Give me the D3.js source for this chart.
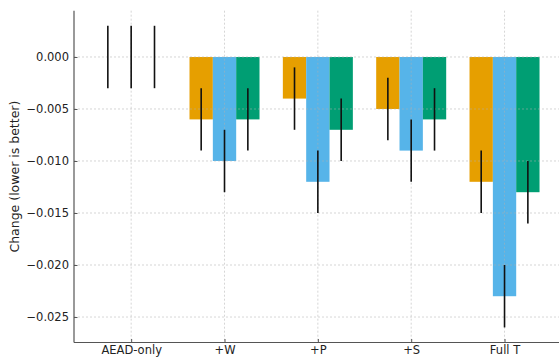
<!DOCTYPE html>
<html>
<head>
<meta charset="utf-8">
<script src="https://cdn.jsdelivr.net/npm/d3@7/dist/d3.min.js"></script>
<style>
  html, body { margin: 0; padding: 0; background: #fff; overflow: hidden; }
  svg, svg text { font-family: 'DejaVu Sans', sans-serif; }
</style>
</head>
<body>
<svg id="chart" width="559" height="358"></svg>
<script>
// Configurations along the x axis
const categories = ["AEAD-only", "+W", "+P", "+S", "Full T"];

// Mean change per configuration for each of the three runs
const seriesA = [0.000, -0.006, -0.004, -0.005, -0.012];
const seriesB = [0.000, -0.010, -0.012, -0.009, -0.023];
const seriesC = [0.000, -0.006, -0.007, -0.006, -0.013];

// Half-width of the error bar for each run
const errA = [0.003, 0.003, 0.003, 0.003, 0.003];
const errB = [0.003, 0.003, 0.003, 0.003, 0.003];
const errC = [0.003, 0.003, 0.003, 0.003, 0.003];

const seriesColors = ["#E69F00", "#56B4E9", "#009E73"];
const yTicks = [0.000, -0.005, -0.010, -0.015, -0.020, -0.025];

const series = [
  { values: seriesA, err: errA, color: seriesColors[0] },
  { values: seriesB, err: errB, color: seriesColors[1] },
  { values: seriesC, err: errC, color: seriesColors[2] }
];

const svg = d3.select("#chart");
const plotLeft = 74, plotRight = 561.7, plotTop = 10.7, plotBottom = 342.5;

const groupWidth = 0.75;
const barWidth = groupWidth / series.length;
const pad = 0.05 * (categories.length - 1 + groupWidth);
const x = d3.scaleLinear()
  .domain([-groupWidth / 2 - pad, categories.length - 1 + groupWidth / 2 + pad])
  .range([plotLeft, plotRight]);

const y = d3.scaleLinear()
  .domain([-0.02745, 0.00445])
  .range([plotBottom, plotTop]);

const fmt = v => (v < 0 ? "\u2212" : "") + d3.format(".3f")(Math.abs(v));

// Bars
series.forEach((s, si) => {
  const off = (si - (series.length - 1) / 2) * barWidth;
  svg.append("g").selectAll("rect")
    .data(s.values)
    .join("rect")
    .attr("x", (d, i) => x(i + off - barWidth / 2))
    .attr("width", (d, i) => x(i + off + barWidth / 2) - x(i + off - barWidth / 2))
    .attr("y", d => y(Math.max(0, d)))
    .attr("height", d => Math.abs(y(d) - y(0)))
    .attr("fill", s.color);
});

// Gridlines, drawn over the bars
const grid = svg.append("g")
  .attr("stroke", "#b0b0b0")
  .attr("stroke-opacity", 0.65)
  .attr("stroke-width", 0.8)
  .attr("stroke-dasharray", "2,2");
grid.selectAll("line.h")
  .data(yTicks)
  .join("line")
  .attr("class", "h")
  .attr("x1", plotLeft).attr("x2", plotRight)
  .attr("y1", d => y(d)).attr("y2", d => y(d));
grid.selectAll("line.v")
  .data(categories)
  .join("line")
  .attr("class", "v")
  .attr("x1", (d, i) => x(i)).attr("x2", (d, i) => x(i))
  .attr("y1", plotTop).attr("y2", plotBottom);

// Error bars
series.forEach((s, si) => {
  const off = (si - (series.length - 1) / 2) * barWidth;
  svg.append("g").selectAll("line")
    .data(s.values)
    .join("line")
    .attr("x1", (d, i) => x(i + off))
    .attr("x2", (d, i) => x(i + off))
    .attr("y1", (d, i) => y(d + s.err[i]))
    .attr("y2", (d, i) => y(d - s.err[i]))
    .attr("stroke", "#111")
    .attr("stroke-width", 1.6);
});

// Axes with short inward ticks
const yAxis = svg.append("g")
  .attr("transform", `translate(${plotLeft},0)`)
  .call(d3.axisLeft(y).tickValues(yTicks).tickFormat(fmt).tickSize(-3.5).tickPadding(5));
const xAxis = svg.append("g")
  .attr("transform", `translate(0,${plotBottom})`)
  .call(d3.axisBottom(x).tickValues(d3.range(categories.length))
    .tickFormat(i => categories[i]).tickSize(-3.5).tickPadding(3));

[yAxis, xAxis].forEach(a => {
  a.attr("font-family", null).attr("font-size", null);
  a.select(".domain").attr("stroke", "#555").attr("stroke-width", 1.2);
  a.selectAll(".tick line").attr("stroke", "#555").attr("stroke-width", 1);
  a.selectAll("text").attr("fill", "#222")
    .style("font-family", "'DejaVu Sans', sans-serif")
    .style("font-size", "11.5px");
});
xAxis.select(".domain").attr("d", `M${plotLeft},0H${plotRight}`);
yAxis.select(".domain").attr("d", `M0,${plotTop}V${plotBottom}`);

// Y axis title
svg.append("text")
  .attr("transform", `translate(19,${(plotTop + plotBottom) / 2}) rotate(-90)`)
  .attr("text-anchor", "middle")
  .style("font-family", "'DejaVu Sans', sans-serif")
  .style("font-size", "12.5px")
  .attr("fill", "#222")
  .text("Change (lower is better)");
</script>
</body>
</html>
